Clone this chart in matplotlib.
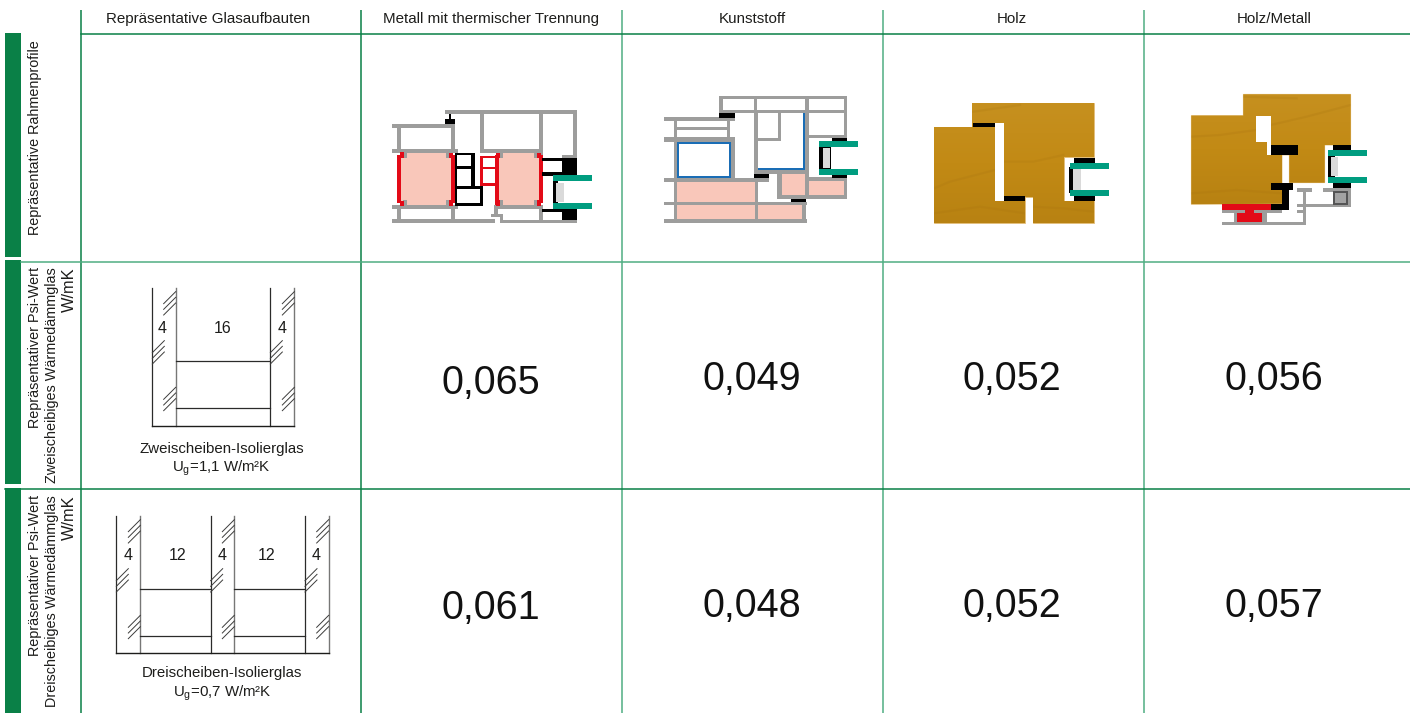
import matplotlib
matplotlib.use("Agg")
import matplotlib.pyplot as plt
from matplotlib.patches import Rectangle, Polygon
from matplotlib import font_manager as fm
import numpy as np

# ---------- table content ----------
headers = ["Repräsentative Glasaufbauten", "Metall mit thermischer Trennung", "Kunststoff", "Holz", "Holz/Metall"]
row_labels_1 = ["Repräsentative Rahmenprofile"]
row_labels_2 = ["Repräsentativer Psi-Wert", "Zweischeibiges Wärmedämmglas", "W/mK"]
row_labels_3 = ["Repräsentativer Psi-Wert", "Dreischeibiges Wärmedämmglas", "W/mK"]
psi_two_pane = ["0,065", "0,049", "0,052", "0,056"]
psi_three_pane = ["0,061", "0,048", "0,052", "0,057"]
caption_two = ["Zweischeiben-Isolierglas", r"U$_{\mathregular{g}}$=1,1 W/m²K"]
caption_three = ["Dreischeiben-Isolierglas", r"U$_{\mathregular{g}}$=0,7 W/m²K"]
thick_two = ["4", "16", "4"]
thick_three = ["4", "12", "4", "12", "4"]

# ---------- fonts ----------
names = {f.name for f in fm.fontManager.ttflist}
NARROW = "Liberation Sans Narrow" if "Liberation Sans Narrow" in names else "Liberation Sans"
plt.rcParams["font.family"] = [NARROW, "DejaVu Sans"]
plt.rcParams["mathtext.fontset"] = "custom"
plt.rcParams["mathtext.rm"] = NARROW
DARK = "#1d1d1b"
GREEN = "#0a8047"
GREEN_L = "#4fae83"
GREY = "#9d9d9c"
PINK = "#f9c7ba"
RED = "#e30a17"
TEAL = "#009d80"
BLUE = "#1a6db5"
BLACK = "#000000"
WOOD = "#c48c1c"
WOOD_D = "#a87410"

fig = plt.figure(figsize=(14.10, 7.13), dpi=100)
ax = fig.add_axes([0, 0, 1, 1])
ax.set_xlim(0, 1410)
ax.set_ylim(713, 0)
ax.axis("off")

# ---------- grid ----------
col_x = [81, 361, 622, 883, 1144]
col_c = [208, 491, 752, 1012, 1274]
for i, x in enumerate(col_x):
    ax.plot([x, x], [10, 713], color=GREEN if i in (0, 1) else GREEN_L, lw=1.1, solid_capstyle="butt")
ax.plot([81, 1410], [34, 34], color=GREEN, lw=1.1)
ax.plot([21, 1410], [261.5, 261.5], color=GREEN_L, lw=1.1)
ax.plot([5, 1410], [488.5, 488.5], color=GREEN, lw=1.1)
for y0, y1 in [(33, 257), (260, 484), (488, 713)]:
    ax.add_patch(Rectangle((5, y0), 16, y1 - y0, fc=GREEN, ec="none"))

for x, t in zip(col_c, headers):
    ax.text(x, 19, t, ha="center", va="center", fontsize=10.9, color=DARK)

ax.text(35, 40, row_labels_1[0], rotation=90, ha="center", va="top", fontsize=10.4, color=DARK)
for y0, labs in [(267, row_labels_2), (495, row_labels_3)]:
    ax.text(35, y0, labs[0], rotation=90, ha="center", va="top", fontsize=10.4, color=DARK)
    ax.text(52, y0, labs[1], rotation=90, ha="center", va="top", fontsize=10.4, color=DARK)
    ax.text(69, y0, labs[2], rotation=90, ha="center", va="top", fontsize=11.8, color=DARK)

val_font = dict(ha="center", va="center", fontsize=28.5, color="#111111", family=["Liberation Sans"])
for x, y, v in zip(col_c[1:], [383, 379, 379, 379], psi_two_pane):
    ax.text(x, y, v, **val_font)
for x, y, v in zip(col_c[1:], [608, 606, 606, 606], psi_three_pane):
    ax.text(x, y, v, **val_font)


# ---------- drawing helpers (crop coordinates at 3x) ----------
def rects(ox, oy, color, boxes, z=2):
    for x0, y0, x1, y1 in boxes:
        ax.add_patch(Rectangle((ox + x0 / 3, oy + y0 / 3), (x1 - x0) / 3, (y1 - y0) / 3,
                               fc=color, ec="none", zorder=z))


def wood(ox, oy, pts, y_top, y_bot, grains):
    poly = Polygon([(ox + x / 3, oy + y / 3) for x, y in pts], closed=True, fc=WOOD, ec="#e3bf7c", lw=0.6, zorder=1)
    ax.add_patch(poly)
    shade = np.linspace(0, 1, 64).reshape(-1, 1)
    cmap = matplotlib.colors.LinearSegmentedColormap.from_list("w", ["#c6901f", "#c28a15", "#b88212"])
    xs = [ox + p[0] / 3 for p in pts]
    im = ax.imshow(shade, extent=(min(xs), max(xs), oy + y_bot / 3, oy + y_top / 3), cmap=cmap,
                   aspect="auto", zorder=1.1)
    im.set_clip_path(poly)
    for g in grains:
        l, = ax.plot([ox + x / 3 for x, y in g], [oy + y / 3 for x, y in g], color=WOOD_D, lw=1.6, alpha=.22, zorder=1.2)
        l.set_clip_path(poly)
    ax.set_xlim(0, 1410)
    ax.set_ylim(713, 0)


def hatch(ox, oy, x0, y0, w=36, h=36):
    """three parallel strokes, lower-left start at crop coords"""
    for k in range(3):
        ax.plot([ox + x0 / 3, ox + (x0 + w) / 3],
                [oy + (y0 - k * 17) / 3, oy + (y0 - k * 17 - h) / 3], color="#3c3c3b", lw=0.7, zorder=3)


def glass_diagram(ox, oy, black_x, grey_x, spans, base, y_a, y_b, labels, label_x, label_y, hatches):
    for x in black_x:
        ax.plot([ox + x / 3] * 2, [oy + 85 / 3, oy + base / 3], color="#2b2b2a", lw=0.9, zorder=3)
    for x in grey_x:
        ax.plot([ox + x / 3] * 2, [oy + 85 / 3, oy + base / 3], color="#777776", lw=1.0, zorder=3)
    ax.plot([ox + black_x[0] / 3, ox + grey_x[-1] / 3], [oy + base / 3] * 2, color="#1d1d1b", lw=1.0, zorder=3)
    for xa, xb in spans:
        for y in (y_a, y_b):
            ax.plot([ox + xa / 3, ox + xb / 3], [oy + y / 3] * 2, color="#2b2b2a", lw=0.9, zorder=3)
    for x, t in zip(label_x, labels):
        ax.text(ox + x / 3, oy + label_y / 3, t, ha="center", va="center", fontsize=11.5, color=DARK)
    for hx, hy in hatches:
        hatch(ox, oy, hx, hy)


# ---------- glass build-ups ----------
glass_diagram(0, 260, [457, 811], [527, 883], [(527, 811)], 497, 302, 443, thick_two, [487, 668, 845], 205,
              [(491, 165), (457, 312), (491, 452), (847, 165), (811, 312), (847, 452)])
ax.text(221.5, 449, caption_two[0], ha="center", va="center", fontsize=10.8, color=DARK)
ax.text(221.5, 468, caption_two[1], ha="center", va="center", fontsize=10.8, color=DARK)

glass_diagram(0, 488, [349, 632, 915], [420, 703, 986], [(420, 632), (703, 915)], 496, 302, 443, thick_three,
              [384, 532, 666, 800, 947], 203,
              [(385, 165), (349, 312), (385, 452), (667, 165), (632, 312), (667, 452), (950, 165), (915, 312), (950, 452)])
ax.text(222, 673, caption_three[0], ha="center", va="center", fontsize=10.8, color=DARK)
ax.text(222, 693, caption_three[1], ha="center", va="center", fontsize=10.8, color=DARK)

# ---------- metal profile ----------
o = (380, 90)
rects(*o, PINK, [(62, 190, 213, 345), (354, 190, 477, 345)], 1)
rects(*o, GREY, [(195, 60, 590, 72), (195, 60, 225, 90), (36, 102, 225, 114), (52, 114, 62, 178), (213, 102, 225, 178),
                 (36, 178, 233, 190), (300, 72, 312, 190), (300, 178, 488, 190), (477, 72, 488, 205),
                 (580, 72, 590, 200), (546, 195, 590, 205), (36, 345, 233, 357), (52, 357, 62, 388), (213, 357, 225, 388),
                 (36, 388, 345, 399), (342, 345, 354, 375), (333, 372, 370, 381), (360, 381, 370, 399), (345, 345, 488, 357),
                 (360, 390, 590, 399), (477, 357, 488, 390), (70, 188, 80, 205), (198, 188, 208, 205), (70, 330, 80, 347),
                 (198, 330, 208, 347), (358, 188, 368, 205), (463, 188, 473, 205), (358, 330, 368, 347), (463, 330, 473, 347)])
rects(*o, "white", [(196, 72, 225, 88)])
rects(*o, RED, [(52, 195, 62, 340), (60, 185, 72, 205), (60, 332, 72, 348), (213, 195, 225, 340), (207, 188, 218, 205),
                (207, 330, 218, 348), (344, 195, 356, 345), (348, 188, 360, 205), (348, 330, 360, 348), (477, 195, 488, 340),
                (471, 188, 483, 205), (471, 330, 483, 348), (300, 197, 354, 205), (300, 197, 308, 288), (300, 230, 350, 238),
                (300, 280, 350, 288)], 3)
rects(*o, BLACK, [(225, 188, 285, 196), (225, 188, 232, 345), (274, 188, 285, 295), (225, 228, 285, 236), (225, 288, 308, 297),
                  (300, 288, 308, 345), (225, 338, 308, 348), (485, 205, 548, 214), (485, 246, 548, 258), (546, 205, 590, 255),
                  (485, 357, 548, 365), (546, 357, 590, 390), (195, 88, 225, 102), (207, 72, 213, 88),
                  (519, 274, 555, 339)], 3)
rects(*o, "white", [(533, 274, 556, 339)], 3.1)
rects(*o, "#dadada", [(528, 278, 552, 336)], 3.2)
rects(*o, TEAL, [(519, 255, 636, 274), (519, 339, 636, 357)], 4)

# ---------- plastic profile ----------
o = (650, 85)
rects(*o, PINK, [(80, 292, 315, 350), (80, 360, 315, 403), (323, 360, 457, 403), (395, 266, 466, 330), (476, 288, 582, 330)], 1)
rects(*o, GREY, [(208, 32, 590, 42), (208, 42, 220, 78), (208, 74, 590, 85), (312, 42, 320, 85), (466, 42, 476, 85), (583, 42, 590, 165),
                 (42, 97, 255, 107), (72, 107, 80, 290), (230, 107, 240, 160), (80, 127, 230, 135), (42, 157, 255, 172),
                 (243, 160, 255, 290), (80, 172, 243, 176), (42, 280, 357, 292), (72, 292, 80, 410), (42, 350, 470, 360), (42, 403, 470, 415),
                 (315, 292, 323, 405), (457, 355, 468, 410), (312, 85, 323, 262), (385, 85, 393, 165), (323, 158, 393, 168),
                 (466, 85, 476, 340), (312, 255, 476, 266), (380, 266, 395, 340), (380, 330, 590, 342), (476, 150, 590, 160),
                 (476, 277, 590, 288), (582, 288, 590, 340)])
rects(*o, BLUE, [(82, 172, 243, 177), (82, 273, 243, 278), (82, 172, 87, 278), (238, 172, 243, 278), (460, 85, 466, 255), (323, 248, 466, 255)], 3)
rects(*o, BLACK, [(207, 83, 255, 98), (312, 266, 357, 279), (423, 341, 468, 351), (546, 158, 590, 170), (546, 270, 590, 279),
                  (507, 186, 543, 252)], 3)
rects(*o, "#dadada", [(520, 190, 540, 248)], 3.2)
rects(*o, TEAL, [(507, 168, 624, 186), (507, 252, 624, 270)], 4)

# ---------- wood profile ----------
o = (920, 90)
wood(*o, [(156, 40), (522, 40), (522, 201), (432, 201), (432, 333), (522, 333), (522, 398), (339, 398), (339, 321), (315, 321),
          (315, 398), (42, 398), (42, 112), (156, 112)], 40, 398,
     [[(42, 295), (90, 275), (225, 240)], [(252, 215), (340, 215), (430, 195)], [(42, 370), (180, 350), (315, 370)],
      [(339, 350), (430, 355), (522, 365)], [(160, 65), (300, 45)]])
rects(*o, "white", [(225, 99, 252, 333)], 2)
rects(*o, BLACK, [(158, 100, 225, 112), (252, 318, 315, 333), (462, 204, 525, 219), (462, 318, 525, 333), (447, 232, 458, 308)], 3)
rects(*o, "#dadada", [(458, 238, 483, 300)], 3.2)
rects(*o, TEAL, [(450, 219, 567, 237), (450, 300, 567, 318)], 4)

# ---------- wood/metal profile ----------
o = (1180, 85)
wood(*o, [(190, 28), (512, 28), (512, 180), (434, 180), (434, 293), (328, 293), (328, 210), (306, 210), (306, 356), (34, 358),
          (34, 92), (190, 92)], 28, 358,
     [[(34, 155), (120, 150), (228, 135)], [(272, 120), (380, 95), (512, 60)], [(34, 325), (170, 315), (305, 325)],
      [(190, 35), (350, 40)]])
rects(*o, "white", [(228, 92, 272, 170), (260, 170, 272, 210)], 2)
rects(*o, GREY, [(127, 375, 195, 384), (222, 375, 306, 384), (163, 384, 172, 410), (245, 384, 261, 410), (127, 410, 378, 419),
                 (369, 310, 378, 419), (350, 310, 396, 320), (350, 358, 505, 367), (350, 375, 369, 384), (430, 310, 512, 320),
                 (504, 310, 512, 367)])
rects(*o, BLACK, [(272, 180, 354, 210), (273, 294, 339, 315), (306, 315, 327, 375), (273, 357, 327, 375), (459, 180, 513, 195),
                  (459, 294, 513, 309), (444, 213, 478, 276)], 3)
rects(*o, RED, [(127, 358, 273, 375), (195, 375, 222, 384), (172, 384, 245, 410)], 3)
rects(*o, "#555555", [(460, 318, 504, 360)], 3)
rects(*o, "#a3a3a3", [(465, 323, 499, 355)], 3.1)
rects(*o, "white", [(466, 213, 478, 276)], 3.1)
rects(*o, "#dadada", [(453, 216, 475, 273)], 3.2)
rects(*o, TEAL, [(444, 195, 561, 213), (444, 276, 561, 294)], 4)

fig.savefig("out.png", dpi=100)
